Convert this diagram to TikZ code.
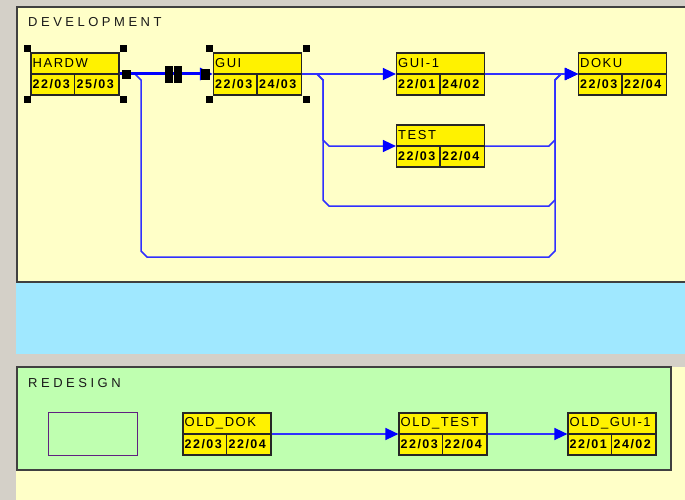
\documentclass[tikz,border=0pt]{standalone}
\usepackage{fontspec}
\setmainfont{Liberation Sans}
\newfontfamily\titlefont[LetterSpace=27]{Liberation Sans}
\newfontfamily\boxfont[LetterSpace=12]{Liberation Sans}
\usetikzlibrary{calc,arrows.meta}
\definecolor{wingrey}{HTML}{D4D0C8}
\definecolor{paleyellow}{HTML}{FFFFC8}
\definecolor{bandblue}{HTML}{A0E8FF}
\definecolor{palegreen}{HTML}{BFFFB0}
\definecolor{panelborder}{HTML}{404040}
\definecolor{linkblue}{HTML}{3030FF}
\definecolor{tipblue}{HTML}{0000FF}
\definecolor{emptybox}{HTML}{602080}
\tikzset{
  taskbox/.style={rectangle,draw=black!85,fill=yellow,line width=1.2pt,
    minimum width=88pt,minimum height=42pt,inner sep=0pt},
  taskline/.style={draw=black!85,line width=1.2pt},
  tasktext/.style={anchor=west,inner sep=0pt,font=\boxfont\fontsize{13}{13}\selectfont,text=black},
  datetext/.style={tasktext,font=\boxfont\bfseries\fontsize{12.5}{13}\selectfont},
  paneltitle/.style={anchor=west,inner sep=0pt,font=\titlefont\fontsize{13}{13}\selectfont,text=black!90},
  conn/.style={draw=linkblue,line width=1.5pt,-{Triangle[length=13pt,width=12pt,color=tipblue]}},
  thickconn/.style={draw=tipblue,line width=3pt,-{Triangle[length=13pt,width=12pt,color=tipblue]}},
  handle/.style={fill=black}
}
\newcommand\tasknode[6]{%
  \node[taskbox] (#1) at (#2,#3) {};
  \draw[taskline] (#1.west) -- (#1.east);
  \draw[taskline] ($(#1.south west)+(44,0)$) -- ($(#1.west)+(44,0)$);
  \node[tasktext] (#1-name) at ($(#1.north west)+(2,10.5)$) {#4};
  \node[datetext] (#1-start) at ($(#1.west)+(2,10.5)$) {#5};
  \node[datetext] (#1-end) at ($(#1.west)+(46,10.5)$) {#6};
}
\begin{document}
\begin{tikzpicture}[x=1pt,y=-1pt]
\useasboundingbox (0,0) rectangle (685,500);
% backgrounds
\fill[wingrey] (0,0) rectangle (685,500);
\fill[paleyellow] (16,367) rectangle (685,500);
\fill[bandblue] (16,283) rectangle (685,354);
\filldraw[fill=paleyellow,draw=panelborder,line width=2pt] (17,7) rectangle (710,282);
\filldraw[fill=palegreen,draw=panelborder,line width=1.5pt] (17,367) rectangle (671,470);
% titles
\node[paneltitle] (devtitle) at (28,22) {DEVELOPMENT};
\node[paneltitle] (redtitle) at (28,383) {REDESIGN};
% tasks
\tasknode{hardw}{75}{74}{HARDW}{22/03}{25/03}
\tasknode{gui}{257.5}{74}{GUI}{22/03}{24/03}
\tasknode{guione}{440.5}{74}{GUI-1}{22/01}{24/02}
\tasknode{test}{440.5}{146}{TEST}{22/03}{22/04}
\tasknode{doku}{622.5}{74}{DOKU}{22/03}{22/04}
\tasknode{olddok}{227}{434}{OLD\_DOK}{22/03}{22/04}
\tasknode{oldtest}{443}{434}{OLD\_TEST}{22/03}{22/04}
\tasknode{oldguione}{612}{434}{OLD\_GUI-1}{22/01}{24/02}
% empty box
\node[rectangle,draw=emptybox,line width=1pt,minimum width=89pt,minimum height=43pt,inner sep=0pt] (emptyrect) at (92.5,433.5) {};
% connectors
\draw[conn] (hardw.east) -- (135,74) -- (141,80) -- (141,251) -- (147,257) -- (549,257) -- (555,251) -- (555,80) -- (561,74) -- (doku.west);
\draw[conn] (gui.east) -- (317,74) -- (323,80) -- (323,200) -- (329,206) -- (549,206) -- (555,200) -- (555,80) -- (561,74) -- (doku.west);
\draw[conn] (gui.east) -- (317,74) -- (323,80) -- (323,140) -- (329,146) -- (test.west);
\draw[conn] (test.east) -- (549,146) -- (555,140) -- (555,80) -- (561,74) -- (doku.west);
\draw[conn] (gui.east) -- (guione.west);
\draw[conn] (guione.east) -- (doku.west);
\draw[thickconn] (hardw.east) -- (gui.west);
\draw[conn] (olddok.east) -- (oldtest.west);
\draw[conn] (oldtest.east) -- (oldguione.west);
% selection handles
\foreach \hx/\hy in {27/48.5,123.5/48.5,27/100,123.5/100,209.5/48.5,306.5/48.5,209.5/100,306.5/100}
  \fill[handle] (\hx-3.5,\hy-3.5) rectangle (\hx+3.5,\hy+3.5);
\fill[handle] (121.5,70) rectangle (130.5,79);
\fill[handle] (200.5,69) rectangle (209.5,80);
\fill[handle] (165,66) rectangle (173,83);
\fill[handle] (174,66) rectangle (182,83);
\end{tikzpicture}
\end{document}
